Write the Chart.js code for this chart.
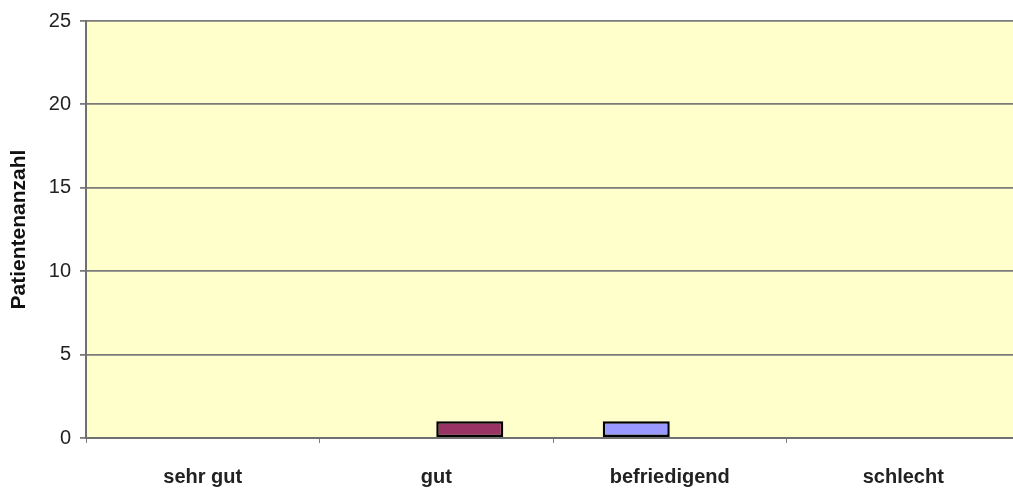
<!DOCTYPE html>
<html>
<head>
<meta charset="utf-8">
<script src="https://cdn.jsdelivr.net/npm/chart.js@4/dist/chart.umd.min.js"></script>
<style>
  html, body { margin: 0; padding: 0; background: #fff; overflow: hidden; }
  #wrap { width: 1030px; height: 495px; }
</style>
</head>
<body>
<div id="wrap"><canvas id="myChart"></canvas></div>
<script>
const categories = ['sehr gut', 'gut', 'befriedigend', 'schlecht'];
const seriesBlue = [0, 0, 1, 0];
const seriesRed = [0, 1, 0, 0];
const yTicks = [0, 5, 10, 15, 20, 25];

// plot area background
const plotBg = {
  id: 'plotBg',
  beforeDraw(chart) {
    const a = chart.chartArea;
    const c = chart.ctx;
    c.save();
    c.fillStyle = '#FFFFCC';
    c.fillRect(a.left, a.top, a.right - a.left, a.bottom - a.top);
    c.restore();
  }
};

const ctx = document.getElementById('myChart');

const myChart = new Chart(ctx, {
  type: 'bar',
  data: {
    labels: categories,
    datasets: [{
      label: 'Reihe 1',
      data: seriesBlue,
      backgroundColor: '#9999FF',
      borderColor: '#000',
      borderWidth: c => c.raw ? 2.5 : 0,
      borderSkipped: false,
    }, {
      label: 'Reihe 2',
      data: seriesRed,
      backgroundColor: '#993366',
      borderColor: '#000',
      borderWidth: c => c.raw ? 2.5 : 0,
      borderSkipped: false,
    }]
  },
  options: {
    responsive: true,
    maintainAspectRatio: false,
    animation: false,
    layout: { padding: { left: 0, top: 18, right: 10, bottom: 0 } },
    categoryPercentage: 0.574,
    barPercentage: 1,
    plugins: {
      legend: { display: false },
      tooltip: { enabled: false }
    },
    scales: {
      x: {
        grid: { display: true, drawOnChartArea: false, offset: true, tickLength: 5, color: '#808080' },
        border: { color: '#707070', width: 2 },
        ticks: { color: '#222', font: { family: 'Arial', size: 20, weight: 'bold' }, padding: 22 },
        afterFit(s) { s.height = 57; }
      },
      y: {
        min: 0,
        max: 25,
        afterBuildTicks(s) { s.ticks = yTicks.map(v => ({ value: v })); },
        grid: { color: '#7a7a7a', lineWidth: 1.8, tickLength: 6 },
        border: { color: '#707070', width: 2 },
        ticks: { color: '#222', font: { family: 'Arial', size: 20 }, padding: 9 },
        title: {
          display: true,
          text: 'Patientenanzahl',
          color: '#111',
          font: { family: 'Arial', size: 21, weight: 'bold' },
          padding: { top: 7, bottom: 0 }
        },
        afterFit(s) { s.width = 86; }
      }
    }
  },
  plugins: [plotBg]
});
</script>
</body>
</html>
